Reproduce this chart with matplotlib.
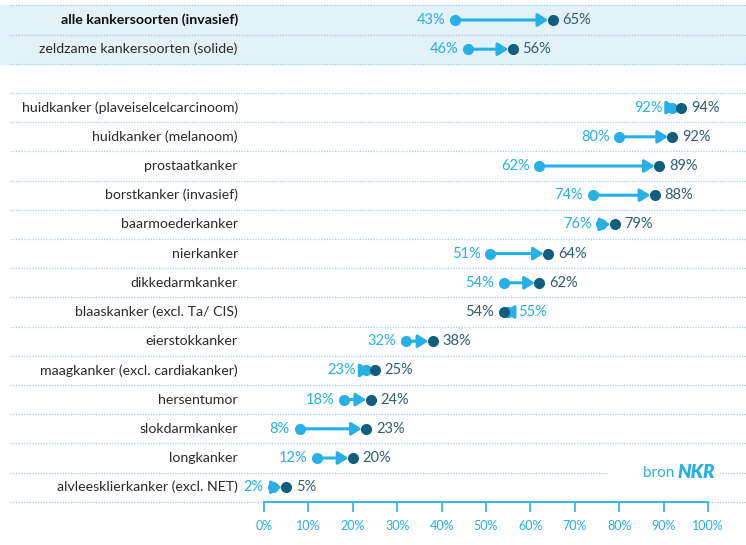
import matplotlib
matplotlib.use("Agg")
import matplotlib.pyplot as plt

categories = [
    "alle kankersoorten (invasief)",
    "zeldzame kankersoorten (solide)",
    "huidkanker (plaveiselcelcarcinoom)",
    "huidkanker (melanoom)",
    "prostaatkanker",
    "borstkanker (invasief)",
    "baarmoederkanker",
    "nierkanker",
    "dikkedarmkanker",
    "blaaskanker (excl. Ta/ CIS)",
    "eierstokkanker",
    "maagkanker (excl. cardiakanker)",
    "hersentumor",
    "slokdarmkanker",
    "longkanker",
    "alvleesklierkanker (excl. NET)",
]
old_values = [43, 46, 92, 80, 62, 74, 76, 51, 54, 55, 32, 23, 18, 8, 12, 2]
new_values = [65, 56, 94, 92, 89, 88, 79, 64, 62, 54, 38, 25, 24, 23, 20, 5]
row_pos = [0, 1, 3, 4, 5, 6, 7, 8, 9, 10, 11, 12, 13, 14, 15, 16]
xticks = [0, 10, 20, 30, 40, 50, 60, 70, 80, 90, 100]
xtick_labels = ["0%", "10%", "20%", "30%", "40%", "50%", "60%", "70%", "80%", "90%", "100%"]

LIGHT = "#27b0e6"
DARK = "#115f7c"
TEXT = "#2b2b2b"
NEWTXT = "#2f5f72"
BAND = "#e3f1f8"
SEP = "#9fd3ea"

plt.rcParams["font.family"] = ["Lato", "DejaVu Sans"]

W, H = 746, 545
fig = plt.figure(figsize=(W / 100, H / 100), dpi=100)
ax = fig.add_axes([0, 0, 1, 1])
px_per_unit = 4.44
x0px = 264
row_h = 29.2
y0px = 20
ax.set_xlim(-x0px / px_per_unit, (W - x0px) / px_per_unit)
ax.set_ylim((H - y0px) / row_h, -y0px / row_h)

xmin, xmax = ax.get_xlim()

# shaded band for the first two rows
ax.axhspan(-0.5, 1.5, color=BAND, zorder=0)

# dotted separators
seps = [-0.5, 0.5, 1.5] + [r + 0.5 for r in row_pos[2:]] + [row_pos[2] - 0.5]
for s in seps:
    ax.hlines(s, xmin + 2.2, xmax, colors=SEP, linestyles=(0, (1, 1.2)), lw=0.9, zorder=1)

for cat, o, n, y in zip(categories, old_values, new_values, row_pos):
    bold = (y == 0)
    ax.text(-5.9, y, cat, ha="right", va="center", fontsize=10.2,
            color="#111111" if bold else TEXT, fontweight="bold" if bold else "normal")
    ax.annotate("", xy=(n, y), xytext=(o, y),
                arrowprops=dict(arrowstyle="-|>,head_length=0.6,head_width=0.38",
                                color=LIGHT, lw=2.2, shrinkA=0, shrinkB=3.2),
                zorder=3)
    ax.plot([o], [y], "o", color=LIGHT, ms=8, mec="none", zorder=4)
    ax.plot([n], [y], "o", color=DARK, ms=8, mec="none", zorder=4)
    lo, hi = min(o, n), max(o, n)
    lo_col = LIGHT if o <= n else NEWTXT
    hi_col = NEWTXT if o <= n else LIGHT
    ax.text(lo - 2.2, y, f"{lo}%", ha="right", va="center", fontsize=10.5, color=lo_col)
    ax.text(hi + 2.2, y, f"{hi}%", ha="left", va="center", fontsize=10.5, color=hi_col)

# source
ax.text(93.2, 15.5, "bron ", ha="right", va="center", fontsize=11, color=LIGHT, zorder=6)
ax.text(93.2, 15.5, "NKR", ha="left", va="center", fontsize=13.5, color=LIGHT,
        fontweight="heavy", fontstyle="italic", zorder=6)
ax.axhspan(15.5 - 0.06, 15.5 + 0.06, xmin=(77.5 - xmin) / (xmax - xmin),
           xmax=(102.5 - xmin) / (xmax - xmin), color="white", zorder=5)

# x axis
for side in ["top", "right", "left"]:
    ax.spines[side].set_visible(False)
ax.spines["bottom"].set_position(("data", 16.5))
ax.spines["bottom"].set_bounds(0, 100)
ax.spines["bottom"].set_color(LIGHT)
ax.spines["bottom"].set_linewidth(1.3)
ax.set_xticks(xticks)
ax.set_xticklabels(xtick_labels)
ax.tick_params(axis="x", direction="out", length=7, width=1.2, color=LIGHT,
               labelcolor=LIGHT, labelsize=9, pad=6)
ax.set_yticks([])

fig.savefig("out.png", dpi=100, facecolor="white")
